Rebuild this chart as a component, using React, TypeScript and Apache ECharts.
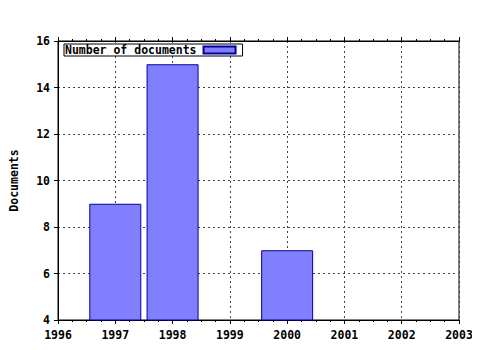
import React, { useEffect, useRef } from "react";
import * as echarts from "echarts";

const years = [1997, 1998, 2000];
const documents = [9, 15, 7];
const seriesName = "Number of documents";
const yAxisTitle = "Documents";

export default function App() {
  const ref = useRef<HTMLDivElement>(null);
  useEffect(() => {
    const chart = echarts.init(ref.current!, null, { renderer: "svg" });
    const font = "DejaVu Sans Mono";
    const axisCommon = {
      type: "value" as const,
      min: 1996,
      max: 2003,
      interval: 1,
    };
    chart.setOption({
      animation: false,
      backgroundColor: "#ffffff",
      grid: {
        left: 57,
        right: 21,
        top: 41,
        bottom: 30,
        show: true,
        borderColor: "#000",
        borderWidth: 1,
      },
      legend: {
        show: true,
        left: 64,
        top: 44,
        orient: "horizontal",
        align: "right",
        itemWidth: 32,
        itemHeight: 7,
        padding: [0, 6, 0, 1],
        borderColor: "#000",
        borderWidth: 1,
        backgroundColor: "#fff",
        borderRadius: 0,
        textStyle: { fontFamily: font, fontSize: 11.5, color: "#000", fontWeight: "bold", padding: [0, 2, 0, 0] },
        data: [{ name: seriesName, icon: "rect" }],
      },
      xAxis: [
        {
          ...axisCommon,
          position: "bottom",
          axisLine: { show: true, onZero: false, lineStyle: { color: "#000", width: 1 } },
          axisTick: { show: true, length: 4, lineStyle: { color: "#000" } },
          minorTick: { show: true, splitNumber: 4, length: 2, lineStyle: { color: "#000" } },
          axisLabel: {
            fontFamily: font,
            fontSize: 11.5,
            fontWeight: "bold",
            color: "#000",
            margin: 9,
            formatter: (v: number) => String(v),
          },
          splitLine: { show: true, lineStyle: { color: "#444", type: [2, 3], width: 1 } },
        },
        {
          ...axisCommon,
          position: "top",
          axisLine: { show: true, onZero: false, lineStyle: { color: "#000", width: 1 } },
          axisTick: { show: true, length: 4, lineStyle: { color: "#000" } },
          minorTick: { show: true, splitNumber: 4, length: 2, lineStyle: { color: "#000" } },
          axisLabel: { show: false },
          splitLine: { show: false },
        },
      ],
      yAxis: {
        type: "value",
        min: 4,
        max: 16,
        interval: 2,
        name: yAxisTitle,
        nameLocation: "middle",
        nameGap: 38,
        nameRotate: 90,
        nameTextStyle: { fontFamily: font, fontSize: 11.5, fontWeight: "bold", color: "#000" },
        axisLine: { show: true, onZero: false, lineStyle: { color: "#000", width: 1 } },
        axisTick: { show: true, length: 4, lineStyle: { color: "#000" } },
        axisLabel: {
          fontFamily: font,
          fontSize: 11.5,
          fontWeight: "bold",
          color: "#000",
          margin: 8,
        },
        splitLine: { show: true, lineStyle: { color: "#444", type: [2, 3], width: 1 } },
      },
      series: [
        {
          name: seriesName,
          type: "bar",
          xAxisIndex: 0,
          barWidth: 52,
          data: years.map((y, i) => [y, documents[i]]),
          itemStyle: { color: "#8080ff", borderColor: "#000099", borderWidth: 1 },
        },
      ],
    });
    return () => chart.dispose();
  }, []);
  return <div ref={ref} style={{ width: 480, height: 350, margin: -8 }} />;
}
